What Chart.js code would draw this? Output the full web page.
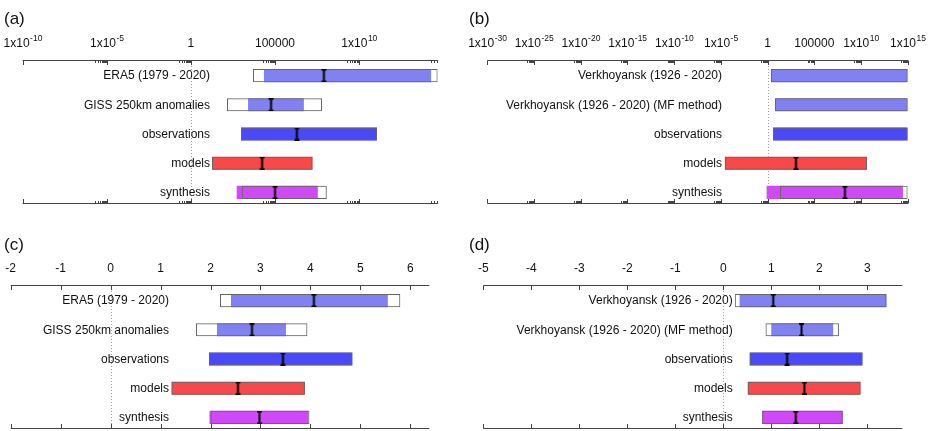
<!DOCTYPE html>
<html>
<head>
<meta charset="utf-8">
<script src="https://cdn.jsdelivr.net/npm/chart.js"></script>
<style>
  body { margin: 0; width: 935px; height: 431px; overflow: hidden; position: relative; background: #fff;
         font-family: "Liberation Sans", Arial, sans-serif; }
  .panel { position: absolute; }
  .panel canvas { display: block; }
  .tag { position: absolute; font-size: 17px; line-height: 20px; color: #111; }
</style>
</head>
<body>
<div class="panel" style="left:0;top:0"><canvas id="chartA" width="467" height="215"></canvas></div>
<div class="panel" style="left:467px;top:0"><canvas id="chartB" width="468" height="215"></canvas></div>
<div class="panel" style="left:0;top:225px"><canvas id="chartC" width="467" height="215"></canvas></div>
<div class="panel" style="left:467px;top:225px"><canvas id="chartD" width="468" height="215"></canvas></div>
<div class="tag" style="left:4px;top:9px">(a)</div>
<div class="tag" style="left:469px;top:9px">(b)</div>
<div class="tag" style="left:4px;top:235px">(c)</div>
<div class="tag" style="left:469px;top:235px">(d)</div>
<script>
// rows
const rowsAC = ['ERA5 (1979 - 2020)', 'GISS 250km anomalies', 'observations', 'models', 'synthesis'];
const rowsBD = ['Verkhoyansk (1926 - 2020)', 'Verkhoyansk (1926 - 2020) (MF method)', 'observations', 'models', 'synthesis'];

// (a) probability ratio, log axis
const outerA = [[4.9e3, 4.7e14], [1.4e2, 6.2e7], [9.5e2, 1.15e11], [18, 1.7e7], [1.05e3, 1.2e8]];
const innerA = [[2.2e4, 1.9e14], [2.5e3, 5.2e6], [9.5e2, 1.15e11], [18, 1.7e7], [5.3e2, 3.5e7]];
const bestA = [8.1e7, 5.8e4, 2.0e6, 1.7e4, 1.0e5];
const ticksA = [1e-10, 1e-5, 1, 1e5, 1e10];
const tickLabelsA = ['1x10^-10', '1x10^-5', '1', '100000', '1x10^10'];

// (b) probability ratio, log axis
const outerB = [[2.3, 1e15], [6.2, 1e15], [3.8, 1e15], [2.7e-5, 4.4e10], [21, 1e15]];
const innerB = [[2.3, 1e15], [6.2, 1e15], [3.8, 1e15], [2.7e-5, 4.4e10], [0.8, 3.1e14]];
const bestB = [null, null, null, 1.1e3, 1.9e8];
const ticksB = [1e-30, 1e-25, 1e-20, 1e-15, 1e-10, 1e-5, 1, 1e5, 1e10, 1e15];
const tickLabelsB = ['1x10^-30', '1x10^-25', '1x10^-20', '1x10^-15', '1x10^-10', '1x10^-5', '1', '100000', '1x10^10', '1x10^15'];

// (c) intensity change, linear axis
const outerC = [[2.19, 5.80], [1.71, 3.94], [1.97, 4.84], [1.22, 3.89], [2.0, 3.98]];
const innerC = [[2.41, 5.55], [2.13, 3.51], [1.97, 4.84], [1.22, 3.89], [1.98, 3.96]];
const bestC = [4.07, 2.83, 3.45, 2.55, 2.98];
const ticksC = [-2, -1, 0, 1, 2, 3, 4, 5, 6];
const tickLabelsC = ['-2', '-1', '0', '1', '2', '3', '4', '5', '6'];

// (d) intensity change, linear axis
const outerD = [[0.24, 3.40], [0.88, 2.41], [0.55, 2.90], [0.51, 2.86], [0.81, 2.49]];
const innerD = [[0.34, 3.40], [1.0, 2.29], [0.55, 2.90], [0.51, 2.86], [0.81, 2.49]];
const bestD = [1.04, 1.63, 1.33, 1.69, 1.51];
const ticksD = [-5, -4, -3, -2, -1, 0, 1, 2, 3];
const tickLabelsD = ['-5', '-4', '-3', '-2', '-1', '0', '1', '2', '3'];

const FONT = '"Liberation Sans", Arial, sans-serif';
const rowColors = ['#8181f2', '#8181f2', '#4949f7', '#f74949', '#d049f7'];
const edge = '#666';

function beam() {
  const c = document.createElement('canvas');
  c.width = 7; c.height = 13;
  const g = c.getContext('2d');
  g.strokeStyle = '#000';
  g.lineWidth = 2;
  g.beginPath(); g.moveTo(3.5, 0.5); g.lineTo(3.5, 12.5); g.stroke();
  g.lineWidth = 1.5;
  g.beginPath();
  g.moveTo(1, 0.75); g.lineTo(6, 0.75);
  g.moveTo(1, 12.25); g.lineTo(6, 12.25);
  g.stroke();
  return c;
}

function minorTicks(ticks, min, max) {
  const step = ticks[1] / ticks[0];
  const all = ticks.concat([ticks[ticks.length - 1] * step]);
  const out = [];
  all.forEach(t => {
    for (let k = 2; k <= 9; k++) {
      const v = k * t / 10;
      if (v > min && v < max) out.push(v);
    }
  });
  return out;
}

// axis lines sit a little outside the category band
const AX_TOP = 1, AX_BOT = 3;

const panelAxes = {
  id: 'panelAxes',
  beforeDatasetsDraw(chart, args, o) {
    const { ctx, chartArea: a } = chart;
    const zx = Math.round(chart.scales.x.getPixelForValue(o.zero)) + 0.5;
    ctx.save();
    ctx.strokeStyle = '#a0a0a0';
    ctx.lineWidth = 1;
    ctx.setLineDash([1, 2]);
    ctx.beginPath(); ctx.moveTo(zx, a.top - AX_TOP); ctx.lineTo(zx, a.bottom - AX_BOT); ctx.stroke();
    ctx.restore();
  },
  afterDatasetsDraw(chart, args, o) {
    const { ctx, chartArea: a } = chart;
    const x = chart.scales.x, y = chart.scales.y;
    const top = Math.round(a.top - AX_TOP) + 0.5, bot = Math.round(a.bottom - AX_BOT) - 0.5;
    ctx.save();
    ctx.strokeStyle = '#444';
    ctx.lineWidth = 1;
    ctx.beginPath();
    ctx.moveTo(a.left, top); ctx.lineTo(a.right, top);
    ctx.moveTo(a.left, bot); ctx.lineTo(a.right, bot);
    const mark = (v, len) => {
      const px = Math.round(x.getPixelForValue(v)) + 0.5;
      ctx.moveTo(px, top); ctx.lineTo(px, top + len);
      ctx.moveTo(px, bot); ctx.lineTo(px, bot - len);
    };
    o.ticks.forEach(v => mark(v, 4.5));
    (o.minor || []).forEach(v => mark(v, 2.5));
    ctx.stroke();

    // tick labels, with superscript exponents
    ctx.fillStyle = '#111';
    ctx.textAlign = 'left';
    ctx.textBaseline = 'alphabetic';
    o.ticks.forEach((v, i) => {
      const [base, exp] = o.tickLabels[i].split('^');
      ctx.font = '12px ' + FONT;
      const wb = ctx.measureText(base).width;
      ctx.font = '8.5px ' + FONT;
      const we = exp ? ctx.measureText(exp).width : 0;
      const left = x.getPixelForValue(v) - (wb + we) / 2;
      ctx.font = '12px ' + FONT;
      ctx.fillText(base, left, top - 14);
      if (exp) {
        ctx.font = '8.5px ' + FONT;
        ctx.fillText(exp, left + wb + 0.5, top - 19.5);
      }
    });

    // row names inside the plot
    ctx.font = '12px ' + FONT;
    ctx.fillStyle = '#111';
    ctx.textAlign = 'right';
    ctx.textBaseline = 'middle';
    chart.data.labels.forEach((s, i) => ctx.fillText(s, o.labelRight, y.getPixelForValue(i) + 0.5));
    ctx.restore();
  }
};

function panel(id, p) {
  const bar = { grouped: false, barPercentage: 0.9, categoryPercentage: 0.5, indexAxis: 'y' };
  new Chart(document.getElementById(id), {
    type: 'bar',
    data: {
      labels: p.rows,
      datasets: [
        { type: 'line', indexAxis: 'y', data: p.best, showLine: false, pointStyle: beam(),
          pointRadius: 3, pointHoverRadius: 3, borderWidth: 0, clip: false },
        Object.assign({ data: p.outer, backgroundColor: 'rgba(0,0,0,0)', borderColor: edge,
          borderWidth: 1, borderSkipped: false }, bar),
        Object.assign({ data: p.inner, backgroundColor: rowColors, borderWidth: 0 }, bar),
        Object.assign({ data: p.outer, backgroundColor: '#ffffff', borderWidth: 0 }, bar)
      ]
    },
    options: {
      indexAxis: 'y',
      responsive: false,
      animation: false,
      layout: { padding: p.pad },
      scales: {
        x: { type: p.type, min: p.min, max: p.max, bounds: 'data', display: false },
        y: { type: 'category', offset: true, display: false }
      },
      plugins: {
        legend: { display: false },
        tooltip: { enabled: false },
        panelAxes: {
          zero: p.zero, ticks: p.ticks, tickLabels: p.tickLabels,
          minor: p.type === 'logarithmic' ? minorTicks(p.ticks, p.min, p.max) : [],
          labelRight: p.labelRight
        }
      }
    },
    plugins: [panelAxes]
  });
}

panel('chartA', { rows: rowsAC, outer: outerA, inner: innerA, best: bestA, ticks: ticksA, tickLabels: tickLabelsA,
  type: 'logarithmic', min: 1e-10, max: 4.7e14, zero: 1, labelRight: 210,
  pad: { left: 22.7, right: 29.3, top: 61, bottom: 8 } });
panel('chartB', { rows: rowsBD, outer: outerB, inner: innerB, best: bestB, ticks: ticksB, tickLabels: tickLabelsB,
  type: 'logarithmic', min: 1e-30, max: 1e15, zero: 1, labelRight: 255,
  pad: { left: 20.3, right: 27.3, top: 61, bottom: 8 } });
panel('chartC', { rows: rowsAC, outer: outerC, inner: innerC, best: bestC, ticks: ticksC, tickLabels: tickLabelsC,
  type: 'linear', min: -2, max: 6.38, zero: 0, labelRight: 169,
  pad: { left: 10.7, right: 37.7, top: 61, bottom: 8 } });
panel('chartD', { rows: rowsBD, outer: outerD, inner: innerD, best: bestD, ticks: ticksD, tickLabels: tickLabelsD,
  type: 'linear', min: -5, max: 3.73, zero: 0, labelRight: 265.7,
  pad: { left: 16.3, right: 32.7, top: 61, bottom: 8 } });
</script>
</body>
</html>
